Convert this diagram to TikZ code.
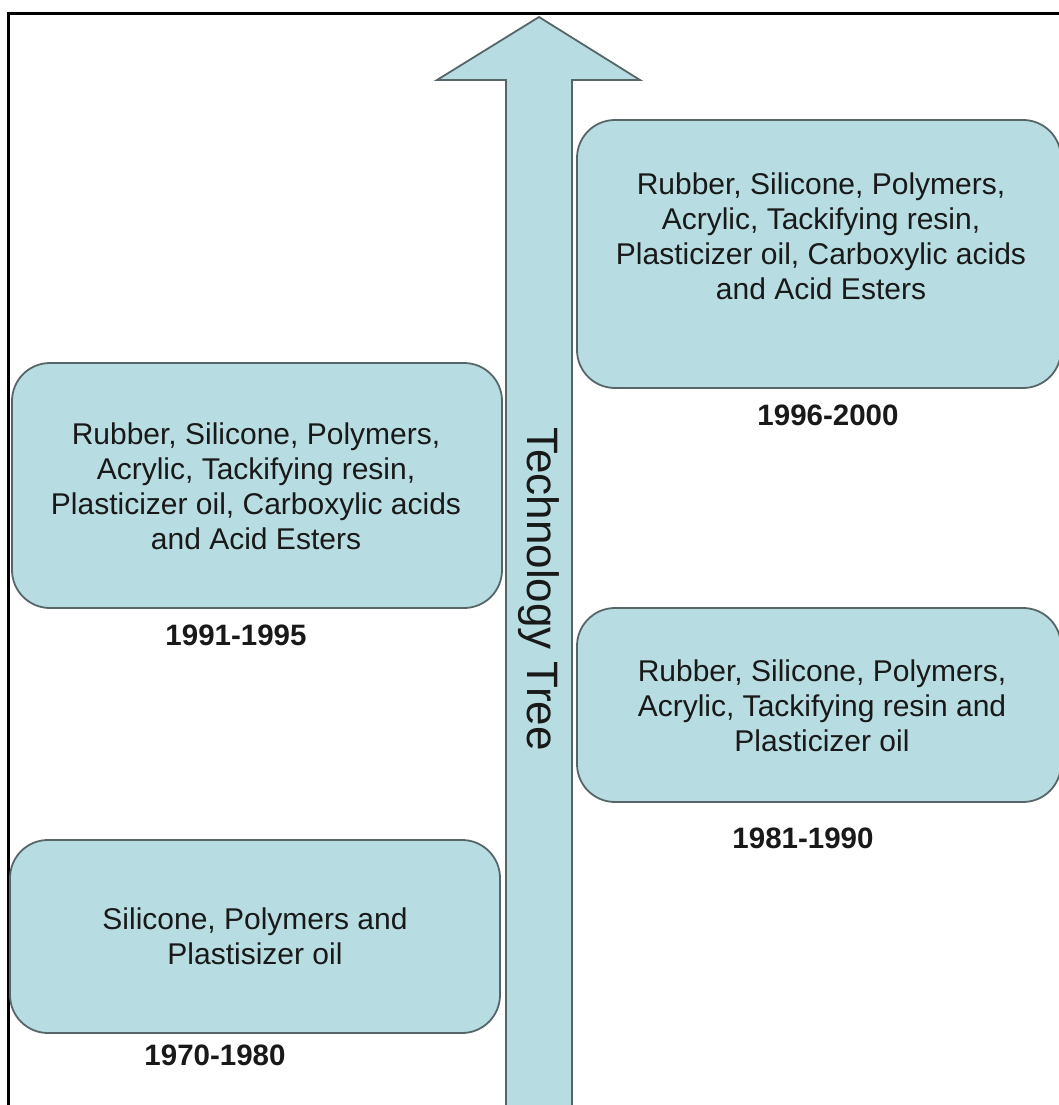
\documentclass[tikz,border=0pt]{standalone}
\usepackage{fontspec}
\setmainfont{Liberation Sans}
\begin{document}
\begin{tikzpicture}[x=1pt,y=-1pt,
  period/.style={draw=boxedge, line width=1.8pt, fill=cyanfill, rounded corners=38pt, inner sep=0pt},
  boxtext/.style={anchor=north, inner sep=0pt, align=center, text=textdark, font=\fontsize{30}{35}\selectfont},
  yearlabel/.style={anchor=base, inner sep=0pt, text=textdark, font=\fontsize{29.5}{34}\selectfont\bfseries},
  arrowlabel/.style={rotate=-90, inner sep=0pt, text=textdark, font=\fontsize{44}{50}\selectfont}
]
\definecolor{cyanfill}{RGB}{183,221,226}
\definecolor{boxedge}{RGB}{86,102,104}
\definecolor{textdark}{RGB}{25,25,25}
\clip (0,0) rectangle (1059,1105);
% frame
\draw[line width=3pt, black] (8,1110) -- (8,13.5) -- (1065,13.5);
% timeline arrow
\draw[boxedge, line width=1.8pt, fill=cyanfill, line join=miter]
  (506,1112) -- (506,80) -- (437,80) -- (539,17) -- (640,80) -- (572,80) -- (572,1112) -- cycle;
\node[arrowlabel] (tree) at (539,589) {Technology Tree};
% boxes
\node[period, minimum width=490pt, minimum height=245pt] (b9195) at (257,485.5) {};
\node[period, minimum width=484pt, minimum height=268pt] (b9600) at (819,254) {};
\node[period, minimum width=484pt, minimum height=194pt] (b8190) at (819,705) {};
\node[period, minimum width=490pt, minimum height=193pt] (b7080) at (255,936.5) {};
% box texts
\node[boxtext] (t9195) at (256,423) {Rubber, Silicone, Polymers,\\Acrylic, Tackifying resin,\\Plasticizer oil, Carboxylic acids\\and Acid Esters};
\node[boxtext] (t9600) at (821,173) {Rubber, Silicone, Polymers,\\Acrylic, Tackifying resin,\\Plasticizer oil, Carboxylic acids\\and Acid Esters};
\node[boxtext] (t8190) at (822,660) {Rubber, Silicone, Polymers,\\Acrylic, Tackifying resin and\\Plasticizer oil};
\node[boxtext] (t7080) at (255,908) {Silicone, Polymers and\\Plastisizer oil};
% year labels
\node[yearlabel] (y9195) at (236,645) {1991-1995};
\node[yearlabel] (y9600) at (828,425) {1996-2000};
\node[yearlabel] (y8190) at (803,848) {1981-1990};
\node[yearlabel] (y7080) at (215,1065) {1970-1980};
\end{tikzpicture}
\end{document}
